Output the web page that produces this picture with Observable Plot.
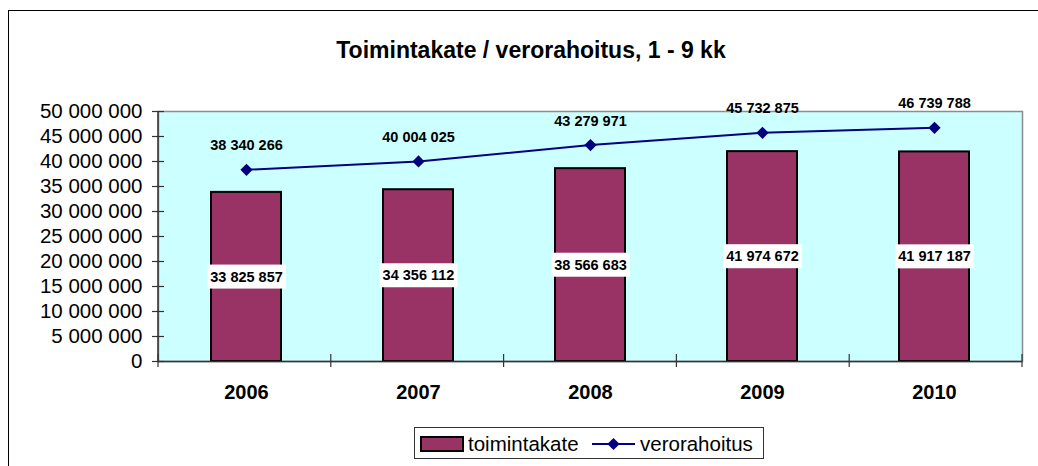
<!DOCTYPE html>
<html>
<head>
<meta charset="utf-8">
<script src="https://cdn.jsdelivr.net/npm/d3@7"></script>
<script src="https://cdn.jsdelivr.net/npm/@observablehq/plot@0.6"></script>
<style>
  html, body { margin: 0; padding: 0; background: #fff; }
  #wrap { position: relative; width: 1038px; height: 466px; overflow: hidden; font-family: "Liberation Sans", Arial, sans-serif; }
  #outer { position: absolute; left: 8px; top: 10px; width: 1200px; height: 600px; border-left: 1.5px solid #000; border-top: 1.5px solid #000; }
  #title { position: absolute; left: 0; top: 39px; width: 1062px; text-align: center; font-size: 23px; line-height: 23px; font-weight: bold; color: #000; }
  #chart { position: absolute; left: 0; top: 95px; }
  #legend { position: absolute; left: 414px; top: 427px; }
</style>
</head>
<body>
<div id="wrap">
  <div id="outer"></div>
  <div id="title">Toimintakate / verorahoitus, 1 - 9 kk</div>
  <div id="chart"></div>
  <div id="legend"></div>
</div>
<script>
const years = ["2006", "2007", "2008", "2009", "2010"];
const toimintakate = [33825857, 34356112, 38566683, 41974672, 41917187];
const verorahoitus = [38340266, 40004025, 43279971, 45732875, 46739788];
const yTicks = [0, 5000000, 10000000, 15000000, 20000000, 25000000, 30000000, 35000000, 40000000, 45000000, 50000000];
const seriesNames = ["toimintakate", "verorahoitus"];
const barColor = "#993366";
const lineColor = "#000080";

const fmt = d => d3.format(",")(d).replace(/,/g, " ");
const data = years.map((year, i) => ({year, toimintakate: toimintakate[i], verorahoitus: verorahoitus[i]}));

function axisLines(index, scales, values, dims) {
  const g = d3.create("svg:g");
  const x0 = dims.marginLeft;
  const w = dims.width - dims.marginLeft - dims.marginRight;
  const yTop = dims.marginTop;
  const yb = dims.height - dims.marginBottom;
  g.append("line").attr("x1", x0).attr("x2", x0).attr("y1", yTop).attr("y2", yb)
    .attr("stroke", "#333").attr("stroke-width", 1.5);
  for (let k = 0; k <= years.length; k++) {
    const px = x0 + k * w / years.length;
    g.append("line").attr("x1", px).attr("x2", px).attr("y1", yb - 7).attr("y2", yb + 6)
      .attr("stroke", "#333").attr("stroke-width", 1.2);
  }
  return g.node();
}

const chart = Plot.plot({
  width: 1038,
  height: 320,
  marginLeft: 158,
  marginRight: 16,
  marginTop: 16,
  marginBottom: 54,
  style: {fontFamily: "'Liberation Sans', Arial, sans-serif", background: "transparent", overflow: "visible", color: "#000"},
  x: {domain: years, paddingInner: 0.595, paddingOuter: 0.2975, label: null},
  y: {domain: [0, 50000000], label: null},
  marks: [
    Plot.frame({fill: "#CCFFFF", stroke: "#8c8c8c", strokeWidth: 1.5}),
    Plot.barY(data, {x: "year", y: "toimintakate", fill: barColor, stroke: "#000", strokeWidth: 2}),
    Plot.line(data, {x: "year", y: "verorahoitus", stroke: lineColor, strokeWidth: 2}),
    Plot.dot(data, {x: "year", y: "verorahoitus", symbol: "diamond2", r: 5.5, fill: lineColor, stroke: "none"}),
    Plot.text(data, {x: "year", y: "verorahoitus", text: d => fmt(d.verorahoitus), dy: -24, fontWeight: "bold", fontSize: 14.5, fill: "#000"}),
    Plot.text(data, {x: "year", y: d => d.toimintakate / 2, text: d => fmt(d.toimintakate), fontWeight: "bold", fontSize: 14.5, fill: "#000", className: "barlabel"}),
    Plot.ruleY([0], {stroke: "#333", strokeWidth: 1.5}),
    axisLines,
    Plot.axisY(yTicks, {tickSize: 12, dx: 6, tickFormat: () => "", stroke: "#333", strokeWidth: 1.2}),
    Plot.axisY(yTicks, {tickSize: 0, tickPadding: 16, tickFormat: fmt, fontSize: 20.5, fill: "#000"}),
    Plot.axisX({tickSize: 0, tickPadding: 23, fontSize: 20, fontWeight: "bold", fill: "#000"})
  ]
});
document.getElementById("chart").appendChild(chart);

// white boxes behind the bar value labels
let labelGroup = chart.querySelector("g.barlabel");
if (!labelGroup) labelGroup = chart.querySelectorAll('g[aria-label="text"]')[1];
if (labelGroup) {
  labelGroup.querySelectorAll("text").forEach(t => {
    const b = t.getBBox();
    const r = document.createElementNS("http://www.w3.org/2000/svg", "rect");
    r.setAttribute("x", b.x - 3);
    r.setAttribute("y", b.y - 4);
    r.setAttribute("width", b.width + 6);
    r.setAttribute("height", b.height + 8);
    r.setAttribute("fill", "#fff");
    const tr = t.getAttribute("transform");
    if (tr) r.setAttribute("transform", tr);
    t.parentNode.insertBefore(r, t);
  });
}

// legend
const leg = d3.select("#legend").append("svg").attr("width", 350).attr("height", 32)
  .style("font-family", "'Liberation Sans', Arial, sans-serif").style("display", "block");
leg.append("rect").attr("x", 0.5).attr("y", 0.5).attr("width", 349).attr("height", 31)
  .attr("fill", "#fff").attr("stroke", "#333").attr("stroke-width", 1);
leg.append("rect").attr("x", 7).attr("y", 10).attr("width", 42).attr("height", 14)
  .attr("fill", barColor).attr("stroke", "#000").attr("stroke-width", 2);
leg.append("text").attr("x", 54).attr("y", 24).attr("font-size", 20.5).text(seriesNames[0]);
leg.append("line").attr("x1", 178).attr("x2", 221).attr("y1", 17).attr("y2", 17)
  .attr("stroke", lineColor).attr("stroke-width", 2);
leg.append("path").attr("d", d3.symbol(d3.symbolDiamond2, 5.5 * 5.5 * Math.PI)())
  .attr("transform", "translate(199.5,17)").attr("fill", lineColor);
leg.append("text").attr("x", 226).attr("y", 24).attr("font-size", 20.5).text(seriesNames[1]);
</script>
</body>
</html>
